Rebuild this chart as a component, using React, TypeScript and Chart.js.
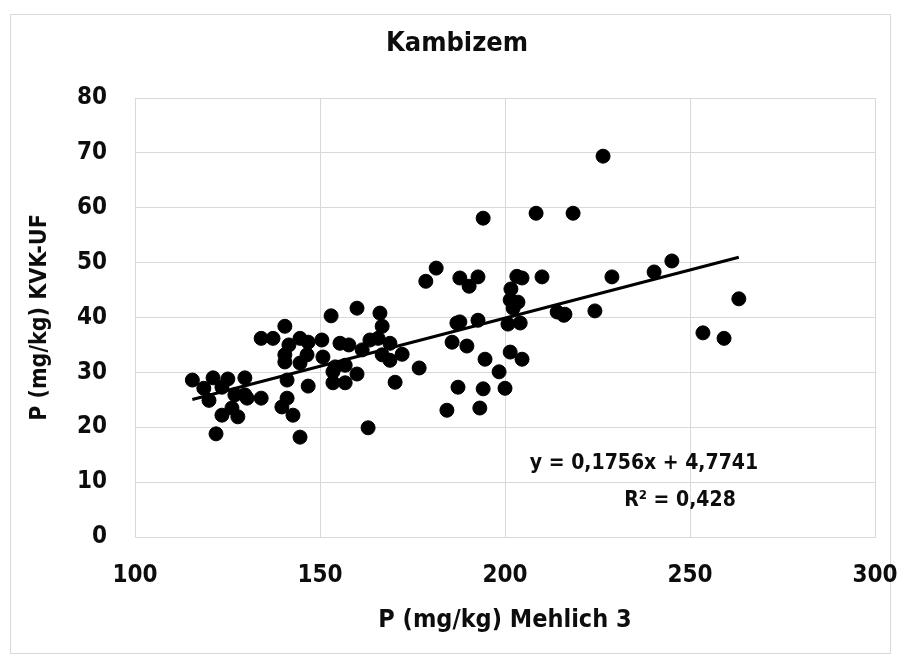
import React, { useEffect, useRef } from "react";
import { Chart, registerables } from "chart.js";

Chart.register(...registerables);

// ---- data ----
const xValues: number[] = [
  115.5, 121.1, 125.1, 129.7, 118.6, 123.5, 120.0, 127.0, 129.7, 130.3,
  134.1, 126.2, 123.5, 127.8, 121.9, 134.1, 137.3, 140.5, 141.6, 144.6,
  146.8, 140.5, 140.5, 146.5, 144.6, 141.1, 146.8, 141.1, 139.7, 142.7,
  144.6, 150.5, 150.8, 153.0, 155.4, 157.8, 160.0, 161.4, 163.5, 165.7,
  168.9, 166.2, 166.8, 166.8, 168.9, 172.2, 153.5, 156.8, 160.0, 153.5,
  156.8, 170.3, 176.8, 163.0, 154.1, 178.6, 181.4, 187.8, 190.3, 192.7,
  203.2, 204.6, 210.0, 201.6, 201.4, 203.5, 202.2, 214.1, 215.9, 187.0,
  187.8, 192.7, 200.8, 204.1, 185.7, 189.7, 194.6, 201.4, 204.6, 198.4,
  187.3, 194.1, 200.0, 184.3, 193.2, 194.1, 208.4, 218.4, 226.5, 228.9,
  240.3, 245.1, 216.2, 224.3, 263.2, 253.5, 259.2,
];
const yValues: number[] = [
  28.6, 29.0, 28.8, 29.0, 27.1, 27.3, 24.9, 25.9, 25.9, 25.3,
  25.3, 23.5, 22.2, 21.9, 18.8, 36.2, 36.2, 38.4, 35.0, 36.2,
  35.5, 33.2, 31.9, 33.2, 31.7, 28.6, 27.5, 25.3, 23.7, 22.2,
  18.2, 35.9, 32.8, 40.3, 35.3, 35.0, 41.7, 34.1, 35.9, 36.2,
  35.3, 40.8, 38.4, 33.2, 32.2, 33.3, 30.1, 31.3, 29.7, 28.1,
  28.1, 28.2, 30.8, 19.9, 31.0, 46.6, 49.0, 47.2, 45.7, 47.4,
  47.5, 47.2, 47.4, 45.2, 43.2, 42.8, 41.7, 41.0, 40.4, 39.0,
  39.2, 39.5, 38.8, 39.0, 35.5, 34.8, 32.4, 33.7, 32.4, 30.1,
  27.3, 27.0, 27.1, 23.1, 23.5, 58.1, 59.0, 59.0, 69.4, 47.4,
  48.3, 50.3, 40.6, 41.2, 43.4, 37.2, 36.2,
];
const xTicks: number[] = [100, 150, 200, 250, 300];
const yTicks: number[] = [0, 10, 20, 30, 40, 50, 60, 70, 80];
const trendSlope = 0.1756;
const trendIntercept = 4.7741;
const trendXRange: number[] = [115.5, 263.2];

const chartTitle = "Kambizem";
const xAxisTitle = "P (mg/kg) Mehlich 3";
const yAxisTitle = "P (mg/kg) KVK-UF";
const equationLabel = "y = 0,1756x + 4,7741";
const r2Label = "R² = 0,428";

const FONT = "'DejaVu Sans Condensed', 'DejaVu Sans', sans-serif";
const GRID = "#d9d9d9";
const TEXT = "#0d0d0d";

const framePlugin = {
  id: "frameAndEquation",
  beforeDraw(chart: any) {
    const ctx = chart.ctx;
    ctx.save();
    ctx.fillStyle = "#ffffff";
    ctx.fillRect(0, 0, chart.width, chart.height);
    ctx.strokeStyle = GRID;
    ctx.lineWidth = 1;
    ctx.strokeRect(10.5, 14.5, 880, 639);
    ctx.fillStyle = TEXT;
    ctx.font = `bold 27px ${FONT}`;
    ctx.textAlign = "center";
    ctx.textBaseline = "middle";
    ctx.fillText(chartTitle, 457, 44);
    ctx.restore();
  },
  afterDatasetsDraw(chart: any) {
    const ctx = chart.ctx;
    ctx.save();
    ctx.fillStyle = TEXT;
    ctx.textAlign = "center";
    ctx.textBaseline = "middle";
    ctx.font = `bold 21px ${FONT}`;
    ctx.fillText(equationLabel, 644, 464);
    ctx.fillText(r2Label, 680, 501);
    ctx.restore();
  },
};

export default function App() {
  const canvasRef = useRef<HTMLCanvasElement | null>(null);

  useEffect(() => {
    document.body.style.margin = "0";
    const canvas = canvasRef.current;
    if (!canvas) return;
    const points = xValues.map((x, i) => ({ x, y: yValues[i] }));
    const trend = trendXRange.map((x) => ({ x, y: trendSlope * x + trendIntercept }));

    const chart = new Chart(canvas, {
      type: "scatter",
      data: {
        datasets: [
          {
            label: "P",
            data: points,
            backgroundColor: "#000000",
            borderColor: "#000000",
            pointRadius: 7,
            pointHoverRadius: 7,
            order: 2,
          },
          {
            label: "trend",
            type: "line",
            data: trend,
            borderColor: "#000000",
            borderWidth: 3,
            pointRadius: 0,
            showLine: true,
            fill: false,
            order: 1,
          } as any,
        ],
      },
      options: {
        responsive: false,
        animation: false,
        devicePixelRatio: 1,
        layout: { padding: { left: 10, right: 33, top: 98, bottom: 20 } },
        plugins: {
          legend: { display: false },
          tooltip: { enabled: false },
          title: { display: false },
        },
        scales: {
          x: {
            type: "linear",
            min: 100,
            max: 300,
            afterBuildTicks: (scale: any) => {
              scale.ticks = xTicks.map((v) => ({ value: v }));
            },
            afterFit: (scale: any) => {
              scale.height = 98;
              scale.paddingLeft = 0;
              scale.paddingRight = 0;
            },
            ticks: {
              color: TEXT,
              font: { family: FONT, size: 24, weight: "bold" },
              padding: 24,
              maxRotation: 0,
            },
            grid: { color: GRID, drawTicks: false, lineWidth: 1 },
            border: { color: GRID },
            title: {
              display: true,
              text: xAxisTitle,
              color: TEXT,
              font: { family: FONT, size: 25, weight: "bold" },
              padding: { top: 20, bottom: 0 },
            },
          },
          y: {
            type: "linear",
            min: 0,
            max: 80,
            afterBuildTicks: (scale: any) => {
              scale.ticks = yTicks.map((v) => ({ value: v }));
            },
            afterFit: (scale: any) => {
              scale.width = 125;
              scale.paddingTop = 0;
              scale.paddingBottom = 0;
            },
            ticks: {
              color: TEXT,
              font: { family: FONT, size: 24, weight: "bold" },
              padding: 28,
            },
            grid: { color: GRID, drawTicks: false, lineWidth: 1 },
            border: { color: GRID },
            title: {
              display: true,
              text: yAxisTitle,
              color: TEXT,
              font: { family: FONT, size: 23, weight: "bold" },
              padding: { top: 16, bottom: 0 },
            },
          },
        },
      },
      plugins: [framePlugin],
    });
    return () => chart.destroy();
  }, []);

  return (
    <div style={{ width: 908, height: 655 }}>
      <canvas ref={canvasRef} width={908} height={655} style={{ display: "block", width: 908, height: 655 }} />
    </div>
  );
}
